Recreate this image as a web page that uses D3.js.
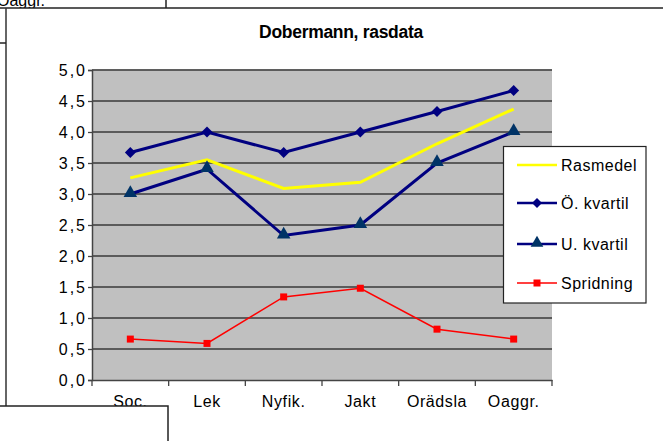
<!DOCTYPE html>
<html><head><meta charset="utf-8">
<script src="https://cdn.jsdelivr.net/npm/d3@7/dist/d3.min.js"></script>
<style>html,body{margin:0;padding:0;background:#fff;overflow:hidden}svg{display:block}</style>
</head><body>
<svg id="c" width="663" height="441"></svg>
<script>
const categories = ["Soc.", "Lek", "Nyfik.", "Jakt", "Orädsla", "Oaggr."];
const rasmedel   = [3.26, 3.55, 3.09, 3.19, 3.81, 4.37];
const oKvartil   = [3.67, 4.00, 3.67, 4.00, 4.33, 4.67];
const uKvartil   = [3.00, 3.40, 2.33, 2.50, 3.50, 4.00];
const spridning  = [0.66, 0.59, 1.34, 1.48, 0.82, 0.66];
const yTicks     = [0, 0.5, 1, 1.5, 2, 2.5, 3, 3.5, 4, 4.5, 5];
const title      = "Dobermann, rasdata";
const seriesNames = ["Rasmedel", "Ö. kvartil", "U. kvartil", "Spridning"];

const svg = d3.select("#c");
const FONT = "'Liberation Sans', Arial, sans-serif";

// background chart remnant
svg.append("text").attr("x", -3).attr("y", 6).attr("font-family", FONT).attr("font-size", 16)
  .attr("fill", "#000").text("Oaggr.");

// chart frame
svg.append("rect").attr("x", 6).attr("y", 8).attr("width", 670).attr("height", 440).attr("fill", "#fff");
svg.append("line").attr("x1", 0).attr("x2", 663).attr("y1", 8).attr("y2", 8).attr("stroke", "#222").attr("stroke-width", 1.5);
svg.append("line").attr("x1", 166).attr("x2", 166).attr("y1", 0).attr("y2", 8).attr("stroke", "#222").attr("stroke-width", 1.5);
svg.append("line").attr("x1", 6).attr("x2", 6).attr("y1", 8).attr("y2", 406).attr("stroke", "#333").attr("stroke-width", 1.5);
svg.append("line").attr("x1", 0).attr("x2", 6).attr("y1", 43).attr("y2", 43).attr("stroke", "#222").attr("stroke-width", 1.5);

const L = 92, R = 552, T = 70, B = 380;
const x = d3.scaleBand().domain(categories).range([L, R]).padding(0);
const cx = d => x(d) + x.bandwidth() / 2;
const y = d3.scaleLinear().domain([0, 5]).range([B, T]);

// plot area
svg.append("rect").attr("x", L).attr("y", T).attr("width", R - L).attr("height", B - T).attr("fill", "#C0C0C0");
svg.append("line").attr("x1", L).attr("x2", R).attr("y1", T - 0.5).attr("y2", T - 0.5).attr("stroke", "#cfcfcf").attr("stroke-width", 1);

// gridlines
svg.append("g").selectAll("line").data(yTicks.filter(v => v > 0)).join("line")
  .attr("x1", L).attr("x2", R).attr("y1", d => y(d)).attr("y2", d => y(d))
  .attr("stroke", "#3a3a3a").attr("stroke-width", 1.3);

// y axis
const yAxis = d3.axisLeft(y).tickValues(yTicks).tickSize(4).tickPadding(3)
  .tickFormat(d => d3.format(".1f")(d).replace(".", ","));
const yg = svg.append("g").attr("transform", `translate(${L},0)`).call(yAxis);
yg.select(".domain").attr("stroke", "#444").attr("stroke-width", 1.5);
yg.selectAll(".tick line").attr("stroke", "#444").attr("stroke-width", 1.3);
yg.selectAll(".tick text").attr("font-family", FONT).attr("font-size", 16).attr("fill", "#000")
  .attr("letter-spacing", "2px").attr("dx", "2px");

// x axis
const xAxis = d3.axisBottom(x).tickSize(0).tickPadding(16);
const xg = svg.append("g").attr("transform", `translate(0,${B})`).call(xAxis);
xg.select(".domain").attr("stroke", "#444").attr("stroke-width", 1.5);
xg.selectAll(".tick text").attr("font-family", FONT).attr("font-size", 16).attr("fill", "#000")
  .attr("letter-spacing", "0.6px");
const bounds = categories.map(c => x(c)).concat([R]);
svg.append("g").selectAll("line").data(bounds).join("line")
  .attr("x1", d => d).attr("x2", d => d).attr("y1", B).attr("y2", B + 6)
  .attr("stroke", "#444").attr("stroke-width", 1.3);

// series
const line = d3.line().x((d, i) => cx(categories[i])).y(d => y(d));
function drawLine(vals, color, w) {
  svg.append("path").datum(vals).attr("d", line).attr("fill", "none")
    .attr("stroke", color).attr("stroke-width", w).attr("stroke-linejoin", "miter");
}
drawLine(rasmedel, "#FFFF00", 3);
drawLine(oKvartil, "#000080", 3);
drawLine(uKvartil, "#000080", 3);
drawLine(spridning, "#FF0000", 1.5);

const diamond = d3.symbol().type(d3.symbolDiamond2 || d3.symbolDiamond).size(100);
svg.append("g").selectAll("path").data(oKvartil).join("path")
  .attr("d", d3.symbol().type(d3.symbolSquare).size(60))
  .attr("transform", (d, i) => `translate(${cx(categories[i])},${y(d)}) rotate(45)`)
  .attr("fill", "#000080");
svg.append("g").selectAll("path").data(uKvartil).join("path")
  .attr("d", d3.symbol().type(d3.symbolTriangle).size(80))
  .attr("transform", (d, i) => `translate(${cx(categories[i])},${y(d) - 1})`)
  .attr("fill", "#003366");
svg.append("g").selectAll("rect").data(spridning).join("rect")
  .attr("x", (d, i) => cx(categories[i]) - 3.5).attr("y", d => y(d) - 3.5)
  .attr("width", 7).attr("height", 7).attr("fill", "#FF0000");

// title
svg.append("text").attr("x", 341).attr("y", 38).attr("text-anchor", "middle")
  .attr("font-family", FONT).attr("font-weight", "bold").attr("font-size", 17.5).attr("fill", "#000")
  .attr("letter-spacing", "-0.3px").text(title);

// legend
const lg = svg.append("g");
lg.append("rect").attr("x", 503.5).attr("y", 146.5).attr("width", 142.5).attr("height", 156.5)
  .attr("fill", "#fff").attr("stroke", "#222").attr("stroke-width", 1.2);
const legendY = [165, 203, 244, 283];
const legendStyle = [
  {color: "#FFFF00", w: 2.5, mark: null},
  {color: "#000080", w: 2.5, mark: "diamond", mc: "#000080"},
  {color: "#000080", w: 2.5, mark: "triangle", mc: "#003366"},
  {color: "#FF0000", w: 1.5, mark: "square", mc: "#FF0000"}
];
seriesNames.forEach((name, i) => {
  const s = legendStyle[i], ly = legendY[i];
  lg.append("line").attr("x1", 517).attr("x2", 557).attr("y1", ly).attr("y2", ly)
    .attr("stroke", s.color).attr("stroke-width", s.w);
  if (s.mark === "diamond") lg.append("path").attr("d", d3.symbol().type(d3.symbolSquare).size(50))
    .attr("transform", `translate(537,${ly}) rotate(45)`).attr("fill", s.mc);
  if (s.mark === "triangle") lg.append("path").attr("d", d3.symbol().type(d3.symbolTriangle).size(70))
    .attr("transform", `translate(537,${ly - 1})`).attr("fill", s.mc);
  if (s.mark === "square") lg.append("rect").attr("x", 533.5).attr("y", ly - 3.5).attr("width", 7).attr("height", 7).attr("fill", s.mc);
  lg.append("text").attr("x", 561).attr("y", ly).attr("dy", "0.35em")
    .attr("font-family", FONT).attr("font-size", 16).attr("letter-spacing", "0.5px").attr("fill", "#000").text(name);
});

// overlapping box at bottom-left
svg.append("rect").attr("x", -2).attr("y", 406).attr("width", 170).attr("height", 50)
  .attr("fill", "#fff").attr("stroke", "#222").attr("stroke-width", 1.5);
</script>
</body></html>
